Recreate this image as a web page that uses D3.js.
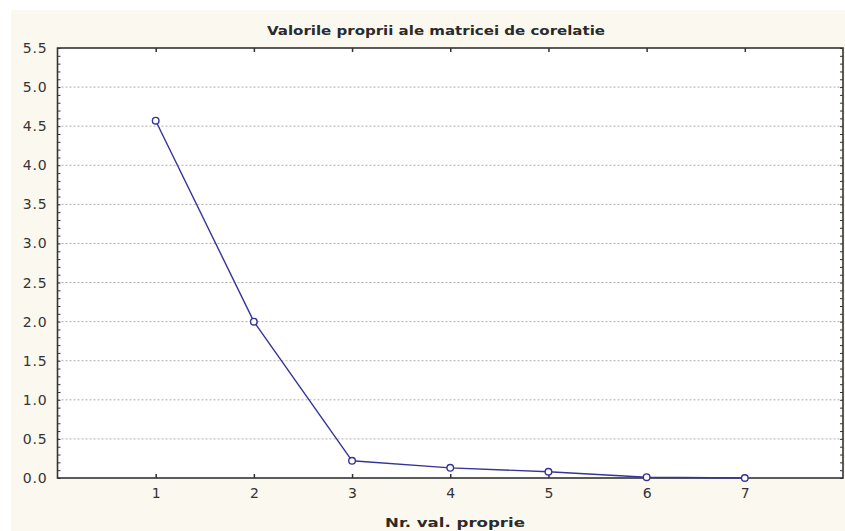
<!DOCTYPE html>
<html>
<head>
<meta charset="utf-8">
<script src="https://cdn.jsdelivr.net/npm/d3@7"></script>
<style>
  body { margin: 0; background: #fff; }
  text { font-family: "DejaVu Sans", Verdana, sans-serif; }
</style>
</head>
<body>
<svg width="845" height="531"></svg>
<script>
// eigenvalues of the correlation matrix
var componentNr = [1, 2, 3, 4, 5, 6, 7];
var eigenValues = [4.57, 2.0, 0.22, 0.13, 0.08, 0.01, 0.0];
var yTicks = [0, 0.5, 1.0, 1.5, 2.0, 2.5, 3.0, 3.5, 4.0, 4.5, 5.0, 5.5];
var titleText = "Valorile proprii ale matricei de corelatie";
var xLabelText = "Nr. val. proprie";

var svg = d3.select("svg"),
    width = +svg.attr("width"),
    height = +svg.attr("height");

var plotLeft = 57.5, plotRight = 843, plotTop = 48, plotBottom = 478;

svg.append("rect")
  .attr("x", 11).attr("y", 10)
  .attr("width", width - 11).attr("height", height - 10)
  .attr("fill", "#fbf9ef");

svg.append("rect")
  .attr("x", plotLeft).attr("y", plotTop)
  .attr("width", plotRight - plotLeft).attr("height", plotBottom - plotTop)
  .attr("fill", "#fff");

var x = d3.scaleLinear().domain([0, 8]).range([plotLeft, plotRight]);
var y = d3.scaleLinear().domain([0, 5.5]).range([plotBottom, plotTop]);

// gridlines
svg.append("g")
  .selectAll("line")
  .data(yTicks.filter(function(d) { return d > 0 && d < 5.5; }))
  .enter().append("line")
  .attr("x1", plotLeft).attr("x2", plotRight)
  .attr("y1", function(d) { return y(d); })
  .attr("y2", function(d) { return y(d); })
  .attr("stroke", "#999")
  .attr("stroke-width", 0.8)
  .attr("stroke-dasharray", "2,2");

// minor ticks
var minor = d3.range(0, 56).map(function(i) { return i / 10; });

svg.append("g")
  .attr("transform", "translate(" + plotLeft + ",0)")
  .call(d3.axisRight(y).tickValues(minor).tickSize(3).tickFormat(""))
  .call(function(g) { g.select(".domain").remove(); })
  .selectAll("line").attr("stroke", "#333");

svg.append("g")
  .attr("transform", "translate(" + plotRight + ",0)")
  .call(d3.axisLeft(y).tickValues(minor).tickSize(3).tickFormat(""))
  .call(function(g) { g.select(".domain").remove(); })
  .selectAll("line").attr("stroke", "#333");

// left axis labels
var yAxis = svg.append("g")
  .attr("transform", "translate(" + plotLeft + ",0)")
  .call(d3.axisLeft(y).tickValues(yTicks).tickSize(0).tickPadding(10).tickFormat(d3.format(".1f")));
yAxis.select(".domain").remove();
yAxis.selectAll("text")
  .attr("font-size", 14)
  .attr("letter-spacing", 0.8)
  .attr("fill", "#333")
  .attr("font-family", "DejaVu Sans, Verdana, sans-serif");

// bottom axis
var xAxis = svg.append("g")
  .attr("transform", "translate(0," + plotBottom + ")")
  .call(d3.axisTop(x).tickValues(componentNr).tickSize(4).tickFormat(""));
xAxis.select(".domain").remove();
xAxis.selectAll("line").attr("stroke", "#333").attr("stroke-width", 1.5);

svg.append("g")
  .attr("transform", "translate(0," + plotBottom + ")")
  .call(d3.axisBottom(x).tickValues(componentNr).tickSize(0).tickPadding(10))
  .call(function(g) { g.select(".domain").remove(); })
  .selectAll("text")
  .attr("font-size", 14)
  .attr("fill", "#333")
  .attr("font-family", "DejaVu Sans, Verdana, sans-serif");

// top ticks
var topAxis = svg.append("g")
  .attr("transform", "translate(0," + plotTop + ")")
  .call(d3.axisBottom(x).tickValues(componentNr).tickSize(4).tickFormat(""));
topAxis.select(".domain").remove();
topAxis.selectAll("line").attr("stroke", "#333").attr("stroke-width", 1.5);

// frame
svg.append("rect")
  .attr("x", plotLeft).attr("y", plotTop)
  .attr("width", plotRight - plotLeft).attr("height", plotBottom - plotTop)
  .attr("fill", "none")
  .attr("stroke", "#333")
  .attr("stroke-width", 1.6);

// line + markers
var pts = componentNr.map(function(d, i) { return [d, eigenValues[i]]; });

var line = d3.line()
  .x(function(d) { return x(d[0]); })
  .y(function(d) { return y(d[1]); });

svg.append("path")
  .datum(pts)
  .attr("d", line)
  .attr("fill", "none")
  .attr("stroke", "#34349a")
  .attr("stroke-width", 1.4);

svg.selectAll(".pt")
  .data(pts)
  .enter().append("circle")
  .attr("class", "pt")
  .attr("cx", function(d) { return x(d[0]); })
  .attr("cy", function(d) { return y(d[1]); })
  .attr("r", 3.3)
  .attr("fill", "#fff")
  .attr("stroke", "#34349a")
  .attr("stroke-width", 1.4);

svg.append("text")
  .attr("x", 436).attr("y", 35)
  .attr("text-anchor", "middle")
  .attr("font-size", 13)
  .attr("font-weight", "bold")
  .attr("fill", "#2a2a2a")
  .attr("textLength", 338)
  .attr("lengthAdjust", "spacingAndGlyphs")
  .text(titleText);

svg.append("text")
  .attr("x", 455).attr("y", 527)
  .attr("text-anchor", "middle")
  .attr("font-size", 13)
  .attr("font-weight", "bold")
  .attr("fill", "#2a2a2a")
  .attr("textLength", 140)
  .attr("lengthAdjust", "spacingAndGlyphs")
  .text(xLabelText);
</script>
</body>
</html>
